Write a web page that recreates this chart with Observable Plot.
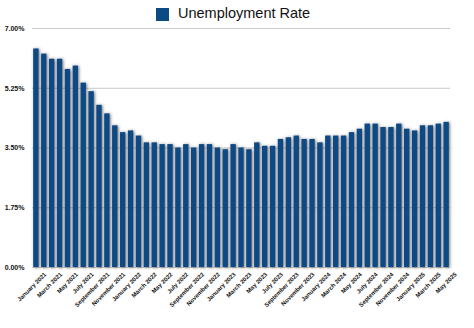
<!DOCTYPE html>
<html>
<head>
<meta charset="utf-8">
<script src="https://cdn.jsdelivr.net/npm/d3@7"></script>
<script src="https://cdn.jsdelivr.net/npm/@observablehq/plot@0.6"></script>
<style>
  html, body { margin: 0; padding: 0; background: #fff; }
  body { width: 474px; height: 328px; overflow: hidden; font-family: "Liberation Sans", Arial, Helvetica, sans-serif; }
  #legend { height: 24px; position: relative; }
  #legend .sw { position: absolute; left: 156px; top: 8px; width: 13px; height: 13px; background: #0c4a84; }
  #legend .lb { position: absolute; left: 178px; top: 4px; font-size: 14.5px; line-height: 18px; color: #111; white-space: nowrap; }
  #chart svg { display: block; }
</style>
</head>
<body>
<div id="legend"><div class="sw"></div><div class="lb">Unemployment Rate</div></div>
<div id="chart"></div>
<script>
const months = [
  "January 2021","February 2021","March 2021","April 2021","May 2021","June 2021","July 2021","August 2021","September 2021","October 2021","November 2021","December 2021",
  "January 2022","February 2022","March 2022","April 2022","May 2022","June 2022","July 2022","August 2022","September 2022","October 2022","November 2022","December 2022",
  "January 2023","February 2023","March 2023","April 2023","May 2023","June 2023","July 2023","August 2023","September 2023","October 2023","November 2023","December 2023",
  "January 2024","February 2024","March 2024","April 2024","May 2024","June 2024","July 2024","August 2024","September 2024","October 2024","November 2024","December 2024",
  "January 2025","February 2025","March 2025","April 2025","May 2025"
];
const rates = [
  6.4,6.25,6.1,6.1,5.8,5.9,5.4,5.15,4.75,4.5,4.15,3.95,
  4.0,3.85,3.65,3.65,3.6,3.6,3.5,3.6,3.5,3.6,3.6,3.5,
  3.45,3.6,3.5,3.45,3.65,3.55,3.55,3.75,3.8,3.85,3.75,3.75,
  3.65,3.85,3.85,3.85,3.95,4.05,4.2,4.2,4.1,4.1,4.2,4.05,
  4.0,4.15,4.15,4.2,4.25
];
const xTickLabels = [
  "January 2021","March 2021","May 2021","July 2021","September 2021","November 2021",
  "January 2022","March 2022","May 2022","July 2022","September 2022","November 2022",
  "January 2023","March 2023","May 2023","July 2023","September 2023","November 2023",
  "January 2024","March 2024","May 2024","July 2024","September 2024","November 2024",
  "January 2025","March 2025","May 2025"
];
const yTicks = [0, 1.75, 3.5, 5.25, 7];

const data = months.map((m, i) => ({month: m, rate: rates[i]}));

const chart = Plot.plot({
  width: 474,
  height: 304,
  marginTop: 4,
  marginBottom: 61,
  marginLeft: 32,
  marginRight: 24,
  style: {fontFamily: "'Liberation Sans', Arial, Helvetica, sans-serif", color: "#111", background: "#fff"},
  x: {domain: months, paddingInner: 0.32, paddingOuter: 0.15, axis: null},
  y: {domain: [0, 7], axis: null},
  marks: [
    Plot.ruleY(yTicks, {stroke: "#c9c9c9", strokeWidth: 1}),
    Plot.barY(data, {x: "month", y: "rate", fill: "#0c4a84"}),
    Plot.axisY({ticks: yTicks, tickSize: 0, tickPadding: 8, tickFormat: d => d.toFixed(2) + "%", fontSize: 7, fontWeight: "bold", anchor: "left", label: null}),
    Plot.axisX({ticks: xTickLabels, tickSize: 0, tickRotate: -45, tickPadding: 2, fontSize: 6, fontWeight: "bold", dx: 9, dy: 4, anchor: "bottom", label: null})
  ]
});
document.getElementById("chart").appendChild(chart);

// soft drop shadow around bars
const ns = "http://www.w3.org/2000/svg";
const defs = document.createElementNS(ns, "defs");
defs.innerHTML = '<filter id="barShadow" x="-50%" y="-10%" width="200%" height="120%"><feDropShadow dx="1" dy="0.5" stdDeviation="1.6" flood-color="#333" flood-opacity="0.7"/></filter>';
chart.insertBefore(defs, chart.firstChild);
const barG = chart.querySelector('g[aria-label="bar"]');
if (barG) barG.setAttribute("filter", "url(#barShadow)");
</script>
</body>
</html>
